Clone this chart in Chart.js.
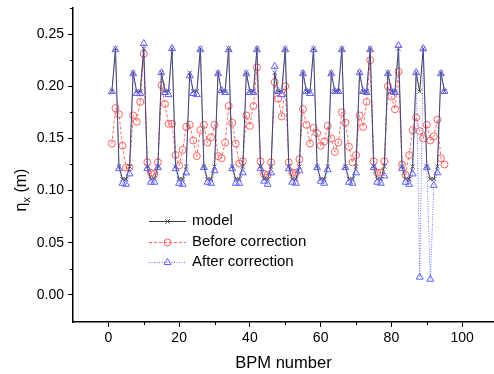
<!DOCTYPE html>
<html>
<head>
<meta charset="utf-8">
<script src="https://cdn.jsdelivr.net/npm/chart.js@4.4.0/dist/chart.umd.min.js"></script>
<style>
  html, body { margin: 0; padding: 0; background: #fff; }
</style>
</head>
<body>
<canvas id="etaChart" width="494" height="374"></canvas>
<script>
// BPM index
const bpm = [1, 2, 3, 4, 5, 6, 7, 8, 9, 10, 11, 12, 13, 14, 15, 16, 17, 18, 19, 20,
  21, 22, 23, 24, 25, 26, 27, 28, 29, 30, 31, 32, 33, 34, 35, 36, 37, 38, 39, 40,
  41, 42, 43, 44, 45, 46, 47, 48, 49, 50, 51, 52, 53, 54, 55, 56, 57, 58, 59, 60,
  61, 62, 63, 64, 65, 66, 67, 68, 69, 70, 71, 72, 73, 74, 75, 76, 77, 78, 79, 80,
  81, 82, 83, 84, 85, 86, 87, 88, 89, 90, 91, 92, 93, 94, 95];

// eta_x (m)
const model = [0.195, 0.236, 0.123, 0.111, 0.111, 0.123, 0.213, 0.195, 0.195, 0.236,
  0.123, 0.111, 0.111, 0.123, 0.213, 0.195, 0.195, 0.236, 0.123, 0.111,
  0.111, 0.123, 0.213, 0.195, 0.195, 0.236, 0.123, 0.111, 0.111, 0.123,
  0.213, 0.195, 0.195, 0.236, 0.123, 0.111, 0.111, 0.123, 0.213, 0.195,
  0.195, 0.236, 0.123, 0.111, 0.111, 0.123, 0.213, 0.195, 0.195, 0.236,
  0.123, 0.111, 0.111, 0.123, 0.213, 0.195, 0.195, 0.236, 0.123, 0.111,
  0.111, 0.123, 0.213, 0.195, 0.195, 0.236, 0.123, 0.111, 0.111, 0.123,
  0.213, 0.195, 0.195, 0.236, 0.123, 0.111, 0.111, 0.123, 0.213, 0.195,
  0.195, 0.236, 0.123, 0.111, 0.111, 0.123, 0.213, 0.195, 0.236, 0.123,
  0.111, 0.111, 0.123, 0.213, 0.195];

const before = [0.145, 0.179, 0.173, 0.143, 0.122, 0.122, 0.172, 0.166, 0.185, 0.231,
  0.127, 0.117, 0.116, 0.127, 0.201, 0.183, 0.164, 0.164, 0.134, 0.124,
  0.139, 0.161, 0.163, 0.148, 0.133, 0.158, 0.163, 0.146, 0.151, 0.163,
  0.133, 0.131, 0.146, 0.181, 0.165, 0.145, 0.126, 0.128, 0.172, 0.162,
  0.181, 0.218, 0.128, 0.116, 0.115, 0.127, 0.204, 0.188, 0.171, 0.200,
  0.127, 0.117, 0.117, 0.130, 0.178, 0.163, 0.145, 0.160, 0.155, 0.143,
  0.147, 0.162, 0.150, 0.137, 0.146, 0.175, 0.165, 0.142, 0.127, 0.134,
  0.172, 0.161, 0.185, 0.225, 0.128, 0.117, 0.117, 0.128, 0.200, 0.190,
  0.178, 0.214, 0.125, 0.115, 0.134, 0.158, 0.170, 0.157, 0.150, 0.163,
  0.148, 0.152, 0.168, 0.131, 0.125];

const after = [0.195, 0.235, 0.121, 0.107, 0.106, 0.116, 0.212, 0.193, 0.193, 0.241,
  0.121, 0.108, 0.108, 0.122, 0.213, 0.194, 0.192, 0.236, 0.121, 0.107,
  0.106, 0.117, 0.210, 0.193, 0.192, 0.235, 0.122, 0.108, 0.107, 0.119,
  0.212, 0.196, 0.194, 0.235, 0.121, 0.107, 0.107, 0.117, 0.212, 0.194,
  0.194, 0.235, 0.121, 0.109, 0.106, 0.117, 0.219, 0.195, 0.192, 0.235,
  0.121, 0.108, 0.107, 0.119, 0.212, 0.195, 0.193, 0.235, 0.122, 0.109,
  0.107, 0.120, 0.212, 0.195, 0.195, 0.235, 0.122, 0.108, 0.107, 0.117,
  0.213, 0.195, 0.194, 0.235, 0.122, 0.108, 0.107, 0.114, 0.212, 0.195,
  0.194, 0.239, 0.121, 0.108, 0.106, 0.116, 0.213, 0.017, 0.236, 0.122,
  0.015, 0.105, 0.117, 0.212, 0.195];

// labelled ticks
const xTickLabels = [0, 20, 40, 60, 80, 100];
const yTickLabels = ['0.00', '0.05', '0.10', '0.15', '0.20', '0.25'];

const FONT = "'Liberation Sans', Arial, sans-serif";

function toPoints(vals) {
  return vals.map((v, i) => ({ x: bpm[i], y: v }));
}
function isMajorX(v) { return xTickLabels.includes(v); }
function isMajorY(v) { return v > -0.001 && yTickLabels.includes(v.toFixed(2)) && Math.round(v * 1000) % 50 === 0; }

// short minor ticks, y title with subscript, legend box
const extras = {
  id: 'extras',
  afterDraw(chart) {
    const c = chart.ctx;
    const xs = chart.scales.x, ys = chart.scales.y;
    c.save();
    c.strokeStyle = '#000';
    c.lineWidth = 1;
    c.beginPath();
    xs.ticks.forEach(t => {
      if (isMajorX(t.value) || t.value < 0) return;
      const px = Math.round(xs.getPixelForValue(t.value)) + 0.5;
      c.moveTo(px, ys.bottom);
      c.lineTo(px, ys.bottom + 3);
    });
    ys.ticks.forEach(t => {
      if (isMajorY(t.value) || t.value < -0.001) return;
      const py = Math.round(ys.getPixelForValue(t.value)) + 0.5;
      c.moveTo(xs.left, py);
      c.lineTo(xs.left - 3, py);
    });
    c.stroke();

    // y axis title: eta with subscript x
    c.save();
    c.translate(26, 190);
    c.rotate(-Math.PI / 2);
    c.fillStyle = '#000';
    c.textBaseline = 'alphabetic';
    c.textAlign = 'left';
    const big = '16px ' + FONT, small = '11px ' + FONT;
    c.font = big;
    const wEta = c.measureText('η').width;
    const wRest = c.measureText(' (m)').width;
    c.font = small;
    const wSub = c.measureText('x').width;
    let sx = -(wEta + wSub + wRest) / 2;
    c.font = big;
    c.fillText('η', sx, 0);
    sx += wEta;
    c.font = small;
    c.fillText('x', sx, 4);
    sx += wSub;
    c.font = big;
    c.fillText(' (m)', sx, 0);
    c.restore();

    // legend
    const rows = [221, 242, 262];
    const x0 = 149, x1 = 186, tx = 192;
    chart.data.datasets.forEach((ds, i) => {
      const y = rows[i] + 0.5;
      c.save();
      c.strokeStyle = ds.borderColor;
      c.lineWidth = ds.borderWidth;
      c.setLineDash(ds.borderDash || []);
      c.beginPath();
      c.moveTo(x0, y);
      c.lineTo(x1, y);
      c.stroke();
      c.setLineDash([]);
      const mx = (x0 + x1) / 2;
      c.strokeStyle = ds.pointBorderColor;
      c.lineWidth = 1;
      c.beginPath();
      if (ds.pointStyle === 'crossRot') {
        const r = 2.2;
        c.moveTo(mx - r, y - r); c.lineTo(mx + r, y + r);
        c.moveTo(mx - r, y + r); c.lineTo(mx + r, y - r);
      } else if (ds.pointStyle === 'circle') {
        c.arc(mx, y, ds.pointRadius, 0, Math.PI * 2);
      } else {
        const r = ds.pointRadius;
        c.moveTo(mx, y - r);
        c.lineTo(mx + r * 0.866, y + r * 0.5);
        c.lineTo(mx - r * 0.866, y + r * 0.5);
        c.closePath();
      }
      c.stroke();
      c.restore();
      c.fillStyle = '#000';
      c.font = '15px ' + FONT;
      c.textBaseline = 'middle';
      c.textAlign = 'left';
      c.fillText(ds.label, tx, rows[i]);
    });
    c.restore();
  }
};

const ctx = document.getElementById('etaChart').getContext('2d');

const etaChart = new Chart(ctx, {
  type: 'line',
  data: {
    datasets: [
      {
        label: 'model',
        data: toPoints(model),
        borderColor: '#3a3a3a',
        borderWidth: 1,
        pointStyle: 'crossRot',
        pointRadius: 3,
        pointBorderColor: '#555',
        pointBorderWidth: 1,
        pointBackgroundColor: 'rgba(0,0,0,0)',
        tension: 0,
        fill: false,
        order: 1
      },
      {
        label: 'Before correction',
        data: toPoints(before),
        borderColor: 'rgba(255,80,80,0.85)',
        borderWidth: 1,
        borderDash: [3, 2],
        pointStyle: 'circle',
        pointRadius: 3.5,
        pointBorderColor: '#ff6060',
        pointBorderWidth: 1,
        pointBackgroundColor: 'rgba(255,255,255,0)',
        tension: 0,
        fill: false,
        order: 2
      },
      {
        label: 'After correction',
        data: toPoints(after),
        borderColor: 'rgba(90,90,255,0.85)',
        borderWidth: 1,
        borderDash: [1, 1.5],
        pointStyle: 'triangle',
        pointRadius: 4,
        pointBorderColor: '#6060ff',
        pointBorderWidth: 1,
        pointBackgroundColor: 'rgba(255,255,255,0)',
        tension: 0,
        fill: false,
        order: 0
      }
    ]
  },
  options: {
    responsive: false,
    animation: false,
    devicePixelRatio: 1,
    layout: { autoPadding: false, padding: { top: 8, right: 0, bottom: 0, left: 0 } },
    plugins: {
      legend: { display: false },
      tooltip: { enabled: false }
    },
    scales: {
      x: {
        type: 'linear',
        min: -10,
        max: 109,
        border: { display: true, color: '#000', width: 1.5 },
        grid: {
          drawOnChartArea: false,
          drawTicks: true,
          tickLength: 5,
          tickColor: (c) => (c.tick && isMajorX(c.tick.value)) ? '#000' : 'rgba(0,0,0,0)'
        },
        ticks: {
          stepSize: 10,
          includeBounds: false,
          autoSkip: false,
          maxRotation: 0,
          padding: 3,
          color: '#000',
          font: { family: FONT, size: 14 },
          callback: (v) => isMajorX(v) ? String(v) : ''
        },
        title: {
          display: true,
          text: 'BPM number',
          color: '#000',
          font: { family: FONT, size: 16.5 },
          padding: { top: 0, bottom: 1 }
        },
        afterFit: (s) => { s.height = 52; s.paddingLeft = 0; s.paddingRight = 0; }
      },
      y: {
        type: 'linear',
        min: -0.026,
        max: 0.275,
        border: { display: true, color: '#000', width: 1.5 },
        grid: {
          drawOnChartArea: false,
          drawTicks: true,
          tickLength: 5,
          tickColor: (c) => (c.tick && isMajorY(c.tick.value)) ? '#000' : 'rgba(0,0,0,0)'
        },
        ticks: {
          stepSize: 0.025,
          includeBounds: false,
          autoSkip: false,
          padding: 4,
          color: '#000',
          font: { family: FONT, size: 14 },
          callback: (v) => isMajorY(v) ? v.toFixed(2) : ''
        },
        title: { display: false },
        afterFit: (s) => { s.width = 73; s.paddingTop = 0; s.paddingBottom = 0; }
      }
    }
  },
  plugins: [extras]
});
</script>
</body>
</html>
